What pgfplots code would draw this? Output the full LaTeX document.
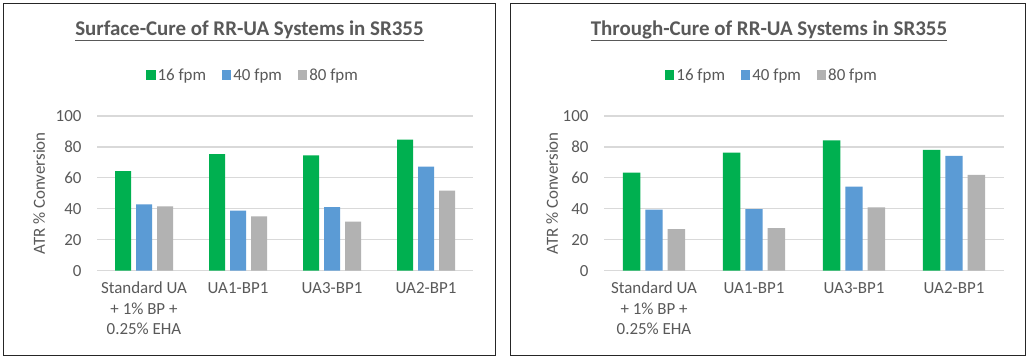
\documentclass[border=0pt]{standalone}
\usepackage{pgfplots}
\pgfplotsset{compat=1.18}
\usepackage{fontspec}
\setmainfont{Carlito}
\definecolor{cgreen}{HTML}{00B050}
\definecolor{cblue}{HTML}{5B9BD5}
\definecolor{cgray}{HTML}{B2B2B2}
\definecolor{ctext}{HTML}{595959}
\definecolor{cgrid}{HTML}{D9D9D9}
\pgfplotsset{mystyle/.style={
  scale only axis, ybar=5bp, ymin=0, ymax=100, ytick={0,20,...,100},
  xmin=-0.5, xmax=3.5, xtick={0,1,2,3},
  xticklabels={{Standard UA\\+ 1\% BP +\\0.25\% EHA},UA1-BP1,UA3-BP1,UA2-BP1},
  axis line style={draw=none}, major tick length=0,
  ymajorgrids, grid style={cgrid, line width=1.2bp},
  /pgf/number format/assume math mode=true,
  tick label style={font=\fontsize{17}{20.5}\selectfont, text=ctext},
  yticklabel style={anchor=east, xshift=-12bp},
  xticklabel style={align=center, anchor=north, yshift=-8bp},
  ylabel={ATR \% Conversion},
  every axis y label/.style={rotate=90, anchor=center, font=\fontsize{17}{20}\selectfont, text=ctext},
  legend columns=3,
  legend style={draw=none, fill=none, font=\fontsize{17}{20}\selectfont, text=ctext, anchor=center,
    /tikz/every even column/.append style={column sep=14bp}},
  legend image code/.code={\fill[##1] (0bp,-4.6bp) rectangle (9.3bp,4.6bp);},
  legend cell align=left,
}}
\begin{document}
\begin{tikzpicture}
\useasboundingbox[fill=white] (0bp,0bp) rectangle (1031bp,360bp);
\draw[line width=1.5bp, black!85] (3.5bp,4.5bp) rectangle (495.5bp,356.5bp);
\draw[line width=1.5bp, black!85] (510.5bp,4.5bp) rectangle (1025.5bp,356.5bp);
\node[font=\fontsize{21}{24}\selectfont\bfseries, text=ctext] at (249.5bp,329bp) {\underline{Surface-Cure of RR-UA Systems in SR355}};
\node[font=\fontsize{21}{24}\selectfont\bfseries, text=ctext] at (769bp,329bp) {\underline{Through-Cure of RR-UA Systems in SR355}};
\begin{axis}[mystyle, at={(97bp,89.3bp)}, anchor=south west, width=376bp, height=154.7bp,
  bar width=16bp,
  ylabel style={at={(axis description cs:-0.154,0.5)}},
  legend style={at={(axis description cs:0.415,1.265)}}]
\addplot[fill=cgreen, draw=none] coordinates {(0,64.3) (1,75.3) (2,74.6) (3,84.7)};
\addplot[fill=cblue, draw=none] coordinates {(0,42.8) (1,38.9) (2,41.1) (3,67.3)};
\addplot[fill=cgray, draw=none] coordinates {(0,41.5) (1,35.1) (2,31.8) (3,51.8)};
\legend{16 fpm,40 fpm,80 fpm}
\end{axis}
\begin{axis}[mystyle, at={(604bp,89.3bp)}, anchor=south west, width=400bp, height=154.7bp,
  bar width=17.4bp,
  ylabel style={at={(axis description cs:-0.13,0.5)}},
  legend style={at={(axis description cs:0.42,1.265)}}]
\addplot[fill=cgreen, draw=none] coordinates {(0,63.4) (1,76.3) (2,84.3) (3,78.1)};
\addplot[fill=cblue, draw=none] coordinates {(0,39.4) (1,39.8) (2,54.4) (3,74.2)};
\addplot[fill=cgray, draw=none] coordinates {(0,26.9) (1,27.5) (2,40.9) (3,61.9)};
\legend{16 fpm,40 fpm,80 fpm}
\end{axis}
\end{tikzpicture}
\end{document}
